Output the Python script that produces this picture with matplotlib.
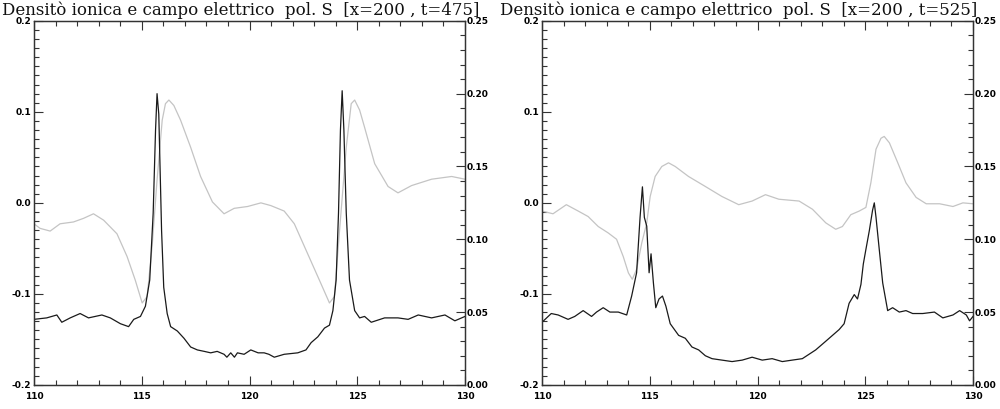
import matplotlib
matplotlib.use('Agg')
import matplotlib.pyplot as plt
from matplotlib.ticker import MultipleLocator, FormatStrFormatter

# --- dati ---
# pannello sinistro (t=475): densita' ionica (nero, asse destro)
x_dens_475 = [110.00, 110.59, 111.06, 111.29, 111.68, 112.14, 112.53, 113.15, 113.54, 114.01,
              114.39, 114.63, 114.94, 115.17, 115.37, 115.53, 115.64, 115.71, 115.79, 115.92,
              116.02, 116.18, 116.34, 116.65, 116.96, 117.27, 117.58, 117.90, 118.20, 118.50,
              118.82, 118.95, 119.13, 119.30, 119.44, 119.75, 120.06, 120.40, 120.68, 120.90,
              121.15, 121.61, 122.24, 122.62, 122.86, 123.17, 123.48, 123.71, 123.87, 124.02,
              124.13, 124.22, 124.30, 124.38, 124.49, 124.64, 124.88, 125.11, 125.34, 125.65,
              126.27, 126.89, 127.36, 127.83, 128.45, 129.07, 129.53, 130.00]
dens_475 = [0.045, 0.046, 0.048, 0.043, 0.046, 0.049, 0.046, 0.048, 0.046, 0.042,
            0.040, 0.045, 0.047, 0.054, 0.072, 0.118, 0.175, 0.200, 0.186, 0.106,
            0.067, 0.049, 0.040, 0.037, 0.032, 0.026, 0.024, 0.023, 0.022, 0.023,
            0.021, 0.019, 0.022, 0.019, 0.022, 0.021, 0.024, 0.022, 0.022, 0.021,
            0.019, 0.021, 0.022, 0.024, 0.029, 0.033, 0.039, 0.041, 0.051, 0.072,
            0.118, 0.175, 0.202, 0.175, 0.118, 0.072, 0.051, 0.046, 0.047, 0.043,
            0.046, 0.046, 0.045, 0.048, 0.046, 0.048, 0.044, 0.047]

# pannello sinistro (t=475): campo elettrico (grigio, asse sinistro)
x_campo_475 = [110.00, 110.28, 110.75, 111.21, 111.83, 112.30, 112.76, 113.23, 113.85, 114.32,
               114.70, 115.02, 115.25, 115.48, 115.71, 115.95, 116.10, 116.26, 116.49, 116.80,
               117.27, 117.73, 118.28, 118.82, 119.29, 119.91, 120.53, 120.99, 121.61, 122.08,
               122.70, 123.32, 123.71, 123.94, 124.18, 124.49, 124.72, 124.88, 125.11, 125.34,
               125.81, 126.43, 126.89, 127.52, 128.45, 129.38, 130.00]
campo_475 = [-0.023, -0.028, -0.031, -0.023, -0.021, -0.017, -0.012, -0.019, -0.034, -0.059,
             -0.085, -0.110, -0.103, -0.048, 0.025, 0.091, 0.109, 0.113, 0.107, 0.091,
             0.061, 0.029, 0.001, -0.012, -0.006, -0.004, 0.000, -0.003, -0.009, -0.023,
             -0.056, -0.089, -0.110, -0.103, -0.030, 0.061, 0.109, 0.113, 0.102, 0.083,
             0.043, 0.018, 0.011, 0.019, 0.026, 0.029, 0.026]

# pannello destro (t=525): densita' ionica
x_dens_525 = [110.00, 110.43, 110.75, 111.21, 111.52, 111.91, 112.30, 112.53, 112.84, 113.15,
              113.54, 113.93, 114.16, 114.39, 114.55, 114.66, 114.75, 114.86, 114.97, 115.06,
              115.17, 115.28, 115.43, 115.59, 115.75, 115.95, 116.34, 116.65, 116.96, 117.27,
              117.58, 117.89, 118.35, 118.82, 119.29, 119.75, 120.22, 120.68, 121.15, 121.61,
              122.08, 122.39, 122.70, 123.17, 123.48, 123.79, 124.02, 124.25, 124.49, 124.64,
              124.80, 124.91, 125.03, 125.19, 125.34, 125.42, 125.50, 125.65, 125.81, 126.04,
              126.27, 126.58, 126.89, 127.20, 127.67, 128.21, 128.60, 129.07, 129.38, 129.69,
              129.84, 130.00]
dens_525 = [0.043, 0.049, 0.048, 0.045, 0.047, 0.051, 0.047, 0.050, 0.053, 0.050,
            0.050, 0.048, 0.061, 0.077, 0.115, 0.136, 0.115, 0.109, 0.077, 0.090,
            0.070, 0.053, 0.059, 0.061, 0.054, 0.042, 0.034, 0.032, 0.026, 0.024,
            0.020, 0.018, 0.017, 0.016, 0.017, 0.019, 0.017, 0.018, 0.016, 0.017,
            0.018, 0.021, 0.024, 0.030, 0.034, 0.038, 0.042, 0.056, 0.062, 0.059,
            0.069, 0.083, 0.093, 0.106, 0.120, 0.125, 0.115, 0.093, 0.070, 0.051,
            0.053, 0.050, 0.051, 0.049, 0.049, 0.050, 0.046, 0.048, 0.051, 0.048,
            0.044, 0.047]

# pannello destro (t=525): campo elettrico
x_campo_525 = [110.00, 110.51, 111.13, 111.68, 112.14, 112.61, 113.07, 113.46, 113.77, 114.01,
               114.19, 114.39, 114.63, 114.86, 115.02, 115.25, 115.56, 115.87, 116.18, 116.80,
               117.58, 118.35, 119.13, 119.75, 120.37, 120.99, 121.93, 122.55, 123.17, 123.63,
               123.94, 124.33, 124.72, 125.03, 125.26, 125.50, 125.73, 125.88, 126.12, 126.51,
               126.89, 127.36, 127.83, 128.45, 129.07, 129.53, 130.00]
campo_525 = [-0.009, -0.012, -0.002, -0.009, -0.015, -0.026, -0.033, -0.040, -0.059, -0.077,
             -0.084, -0.073, -0.044, -0.022, 0.007, 0.029, 0.040, 0.044, 0.040, 0.029,
             0.018, 0.007, -0.002, 0.002, 0.009, 0.004, 0.002, -0.007, -0.022, -0.029,
             -0.026, -0.013, -0.009, -0.005, 0.022, 0.059, 0.071, 0.073, 0.066, 0.044,
             0.022, 0.006, -0.001, -0.001, -0.004, 0.000, -0.001]

titoli = ['Densitò ionica e campo elettrico  pol. S  [x=200 , t=475]',
          'Densitò ionica e campo elettrico  pol. S  [x=200 , t=525]']

fig = plt.figure(figsize=(10, 4.09), dpi=100)


def pannello(left, x_c, campo, x_d, dens, titolo, title_x):
    ax = fig.add_axes([left, 0.059, 0.431, 0.89])
    ax2 = ax.twinx()
    ax.plot(x_c, campo, color='#c4c4c4', lw=0.9)
    ax2.plot(x_d, dens, color='#1a1a1a', lw=0.9)
    ax.set_xlim(110, 130)
    ax.set_ylim(-0.2, 0.2)
    ax2.set_ylim(0.0, 0.25)
    ax.xaxis.set_major_locator(MultipleLocator(5))
    ax.xaxis.set_minor_locator(MultipleLocator(1))
    ax.yaxis.set_major_locator(MultipleLocator(0.1))
    ax.yaxis.set_minor_locator(MultipleLocator(0.01))
    ax.yaxis.set_major_formatter(FormatStrFormatter('%.1f'))
    ax2.yaxis.set_major_locator(MultipleLocator(0.05))
    ax2.yaxis.set_minor_locator(MultipleLocator(0.01))
    ax2.yaxis.set_major_formatter(FormatStrFormatter('%.2f'))
    ax.tick_params(which='both', direction='in', top=True, right=False, width=0.8, color='#333333')
    ax.tick_params(axis='y', which='major', length=6.5, pad=2)
    ax.tick_params(axis='x', which='major', length=6.5, pad=5)
    ax.tick_params(which='minor', length=3.5)
    ax2.tick_params(which='both', direction='in', width=0.8, color='#333333')
    ax2.tick_params(which='major', length=6.5, pad=1)
    ax2.tick_params(which='minor', length=3.5)
    for a in (ax, ax2):
        for lab in a.get_xticklabels() + a.get_yticklabels():
            lab.set_fontsize(6.5)
            lab.set_fontweight('bold')
        for s in a.spines.values():
            s.set_linewidth(0.9)
            s.set_color('#333333')
    fig.text(title_x, 0.997, titolo, ha='left', va='top', fontsize=12,
             family='DejaVu Serif', color='#111111')


pannello(0.034, x_campo_475, campo_475, x_dens_475, dens_475, titoli[0], 0.002)
pannello(0.542, x_campo_525, campo_525, x_dens_525, dens_525, titoli[1], 0.500)

fig.savefig('out.png', dpi=100, facecolor='white')
